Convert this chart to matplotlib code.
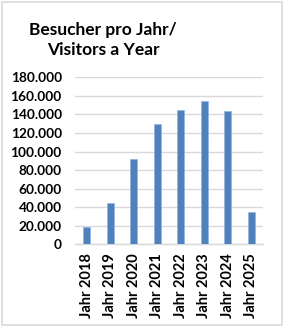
import matplotlib
matplotlib.use("Agg")
import matplotlib.pyplot as plt
from matplotlib.patches import Rectangle
from matplotlib.ticker import FuncFormatter

categories = ["Jahr 2018", "Jahr 2019", "Jahr 2020", "Jahr 2021",
              "Jahr 2022", "Jahr 2023", "Jahr 2024", "Jahr 2025"]
visitors = [18500, 44800, 92200, 129700, 145100, 154400, 144000, 34500]
yticks = [0, 20000, 40000, 60000, 80000, 100000, 120000, 140000, 160000, 180000]
title_lines = ["Besucher pro Jahr/", "Visitors a Year"]

plt.rcParams['font.family'] = ['Lato', 'DejaVu Sans']

W, H = 283, 326
fig = plt.figure(figsize=(W / 100, H / 100), dpi=100)
fig.patch.set_facecolor('white')
fig.add_artist(Rectangle((1.5 / W, 1.5 / H), (W - 3) / W, (H - 3) / H,
                         transform=fig.transFigure, fill=False,
                         edgecolor='#D9D9D9', linewidth=1.2))

ax = fig.add_axes([75 / W, 1 - 244.3 / H, 188 / W, 167 / H])
x = list(range(len(categories)))
ax.bar(x, visitors, width=0.3, color='#4F81BD', edgecolor='#8EB4E3',
       linewidth=0.5, zorder=3)
ax.set_xlim(-0.5, len(categories) - 0.5)
ax.set_ylim(0, 180000)
ax.set_yticks(yticks)
ax.yaxis.set_major_formatter(FuncFormatter(lambda v, p: f"{int(v):,}".replace(",", ".")))
ax.set_xticks(x)
ax.set_xticklabels(categories, rotation=90)
for lab in ax.get_yticklabels():
    lab.set_fontweight('bold')
    lab.set_fontsize(9.8)
    lab.set_color('#000000')
for lab in ax.get_xticklabels():
    lab.set_fontweight('bold')
    lab.set_fontsize(10.5)
    lab.set_color('#000000')
ax.tick_params(axis='y', length=0, pad=9.5)
ax.tick_params(axis='x', length=0, pad=6.5)
ax.grid(axis='y', color='#D9D9D9', linewidth=1, zorder=0)
for s in ['top', 'right', 'left']:
    ax.spines[s].set_visible(False)
ax.spines['bottom'].set_color('#D9D9D9')
ax.spines['bottom'].set_linewidth(1)

fig.text(103 / W, 1 - 35 / H, title_lines[0], ha='center', va='baseline',
         fontsize=12.5, fontweight='bold')
fig.text(103 / W, 1 - 55 / H, title_lines[1], ha='center', va='baseline',
         fontsize=12.5, fontweight='bold')

fig.savefig('out.png', dpi=100)
